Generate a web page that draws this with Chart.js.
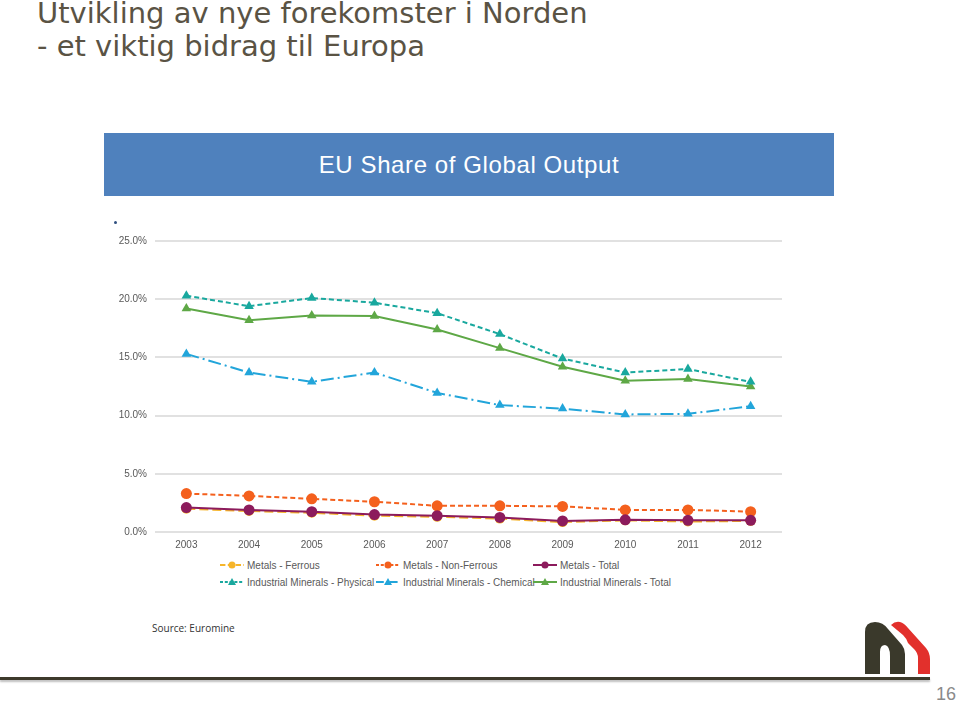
<!DOCTYPE html>
<html lang="no">
<head>
<meta charset="UTF-8">
<title>EU Share of Global Output</title>
<style>
    body {
        margin: 0;
        width: 960px;
        height: 704px;
        position: relative;
        background: #fff;
        overflow: hidden;
        font-family: "Liberation Sans", Arial, sans-serif;
    }
    .title {
        position: absolute;
        left: 37px;
        top: -3px;
        font-family: "DejaVu Sans", Verdana, sans-serif;
        font-size: 29px;
        line-height: 33px;
        color: #5a5344;
    }
    .banner {
        position: absolute;
        left: 104px;
        top: 133px;
        width: 730px;
        height: 63px;
        background: #4f81bd;
        color: #fff;
        font-size: 24px;
        letter-spacing: 0.6px;
        text-align: center;
        line-height: 63px;
    }
    .dot {
        position: absolute;
        left: 114px;
        top: 221px;
        width: 3px;
        height: 3px;
        border-radius: 50%;
        background: #2f4f7f;
    }
    .chart-box {
        position: absolute;
        left: 110px;
        top: 227px;
    }
    .legend-item {
        position: absolute;
        display: flex;
        align-items: center;
        font-size: 10px;
        color: #595959;
        white-space: nowrap;
    }
    .legend-item svg { margin-right: 3px; }
    .source {
        position: absolute;
        left: 152px;
        top: 621px;
        font-size: 10px;
        font-family: "Open Sans", sans-serif;
        color: #333;
    }
    .rule {
        position: absolute;
        left: 0;
        top: 677px;
        width: 930px;
        height: 3px;
        background: #3d3a2b;
        box-shadow: 0 2px 2px rgba(0,0,0,0.25);
    }
    .page {
        position: absolute;
        left: 936px;
        top: 684px;
        font-size: 18px;
        color: #8a8a8a;
    }
    .logo { position: absolute; left: 855px; top: 612px; }
</style>
</head>
<body>

<div class="title">Utvikling av nye forekomster i Norden<br>- et viktig bidrag til Europa</div>
<div class="banner">EU Share of Global Output</div>
<div class="dot"></div>

<div class="chart-box">
    <canvas id="shareChart" width="680" height="328"></canvas>
</div>
<div id="legend"></div>

<div class="source">Source: Euromine</div>

<svg class="logo" width="90" height="64" viewBox="0 0 90 64">
    <path d="M10 62 L10 20 Q10 10 20 10 Q28 10 33 17 L47 33 Q50 37 50 42 L50 62 L35 62 L35 44 Q35 34 30 33 Q25 33 25 40 L25 62 Z" fill="#3a392b"/>
    <path d="M36 13 Q40 9 45 10 Q49 11 53 16 L71 36 Q75 41 75 47 L75 62 L63 62 L63 46 Q63 41 59 37 L53 31 Q52 27 48 23 Z" fill="#e2302c"/>
</svg>

<div class="rule"></div>
<div class="page">16</div>

<script src="https://cdn.jsdelivr.net/npm/chart.js"></script>
<script>
    // years on the x axis
    const years = ['2003', '2004', '2005', '2006', '2007', '2008', '2009', '2010', '2011', '2012'];

    // EU share of global output, percent
    const metalsFerrous    = [2.0, 1.8, 1.65, 1.4, 1.3, 1.15, 0.85, 1.0, 0.9, 0.95];
    const metalsNonFerrous = [3.3, 3.1, 2.85, 2.6, 2.25, 2.25, 2.2, 1.9, 1.9, 1.75];
    const metalsTotal      = [2.1, 1.9, 1.75, 1.5, 1.4, 1.25, 0.95, 1.05, 1.0, 1.0];
    const imPhysical       = [20.3, 19.4, 20.1, 19.7, 18.8, 17.0, 14.9, 13.7, 14.0, 12.9];
    const imChemical       = [15.3, 13.7, 12.9, 13.7, 11.95, 10.9, 10.6, 10.1, 10.15, 10.8];
    const imTotal          = [19.2, 18.2, 18.6, 18.55, 17.4, 15.8, 14.2, 13.0, 13.15, 12.5];

    const yTicks = [0, 5, 10, 15, 20, 25];

    const series = [
        { label: 'Metals - Ferrous', data: metalsFerrous, color: '#f6b52a', dash: [9, 4], point: 'circle', r: 5, order: 2 },
        { label: 'Metals - Non-Ferrous', data: metalsNonFerrous, color: '#f4601d', dash: [5, 3], point: 'circle', r: 5.5, order: 1 },
        { label: 'Metals - Total', data: metalsTotal, color: '#8c1b5c', dash: [], point: 'circle', r: 5.5, order: 0 },
        { label: 'Industrial Minerals - Physical', data: imPhysical, color: '#19a89e', dash: [5, 3], point: 'triangle', r: 5.5, order: 1 },
        { label: 'Industrial Minerals - Chemical', data: imChemical, color: '#22a5da', dash: [13, 4, 2, 4], point: 'triangle', r: 5.5, order: 1 },
        { label: 'Industrial Minerals - Total', data: imTotal, color: '#5ea846', dash: [], point: 'triangle', r: 5.5, order: 1 }
    ];

    const ctx = document.getElementById('shareChart').getContext('2d');
    new Chart(ctx, {
        type: 'line',
        data: {
            labels: years,
            datasets: series.map(s => ({
                label: s.label,
                data: s.data,
                borderColor: s.color,
                backgroundColor: s.color,
                borderWidth: 2,
                borderDash: s.dash,
                pointStyle: s.point,
                pointRadius: s.r,
                pointBorderWidth: 0,
                tension: 0,
                order: s.order
            }))
        },
        options: {
            responsive: false,
            animation: false,
            layout: { padding: { top: 7, right: 8, left: 0, bottom: 0 } },
            plugins: {
                legend: { display: false },
                tooltip: { enabled: false }
            },
            scales: {
                x: {
                    offset: true,
                    grid: { display: false, drawTicks: false },
                    border: { display: false },
                    ticks: { color: '#595959', font: { size: 10, family: 'Liberation Sans' }, padding: 7 },
                    afterFit: scale => { scale.height = 23; }
                },
                y: {
                    min: 0,
                    max: 25,
                    afterBuildTicks: scale => { scale.ticks = yTicks.map(v => ({ value: v })); },
                    grid: { color: '#e1e1e1', lineWidth: 2, drawTicks: false },
                    border: { display: false },
                    ticks: {
                        color: '#595959',
                        font: { size: 10, family: 'Liberation Sans' },
                        padding: 8,
                        callback: v => v.toFixed(1) + '%'
                    },
                    afterFit: scale => { scale.width = 45; }
                }
            }
        }
    });

    // legend in three aligned columns, like the slide
    const legendCols = [220, 376, 533];
    const legendRows = [559, 576];
    const legend = document.getElementById('legend');
    series.forEach((s, i) => {
        const x = legendCols[i % 3];
        const y = legendRows[Math.floor(i / 3)];
        const marker = s.point === 'circle'
            ? `<circle cx="12" cy="6" r="3.5" fill="${s.color}"/>`
            : `<polygon points="12,2 16,9 8,9" fill="${s.color}"/>`;
        const dash = s.dash.length ? s.dash.map(d => Math.max(1, d * 0.6)).join(',') : 'none';
        legend.innerHTML += `
            <div class="legend-item" style="left:${x}px;top:${y}px">
                <svg width="24" height="12"><line x1="0" y1="6" x2="24" y2="6" stroke="${s.color}" stroke-width="2" stroke-dasharray="${dash}"/>${marker}</svg>
                <span>${s.label}</span>
            </div>`;
    });
</script>
</body>
</html>
